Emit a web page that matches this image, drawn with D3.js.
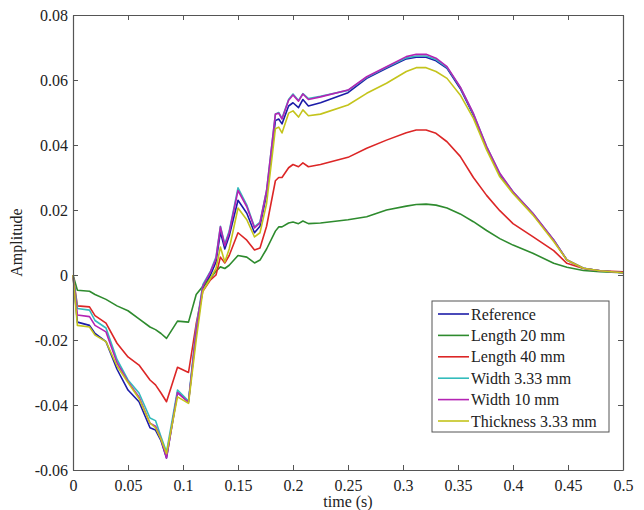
<!DOCTYPE html>
<html>
<head>
<meta charset="utf-8">
<script src="https://cdnjs.cloudflare.com/ajax/libs/d3/7.8.5/d3.min.js"></script>
<style>
body { margin: 0; background: #fff; }
svg text { font-family: "Liberation Serif", "Times New Roman", Times, "DejaVu Serif", serif !important; }
</style>
</head>
<body>
<svg id="chart" width="644" height="510"></svg>
<script>

const times = [0, 0.004, 0.015, 0.02, 0.03, 0.04, 0.05, 0.06, 0.07, 0.075, 0.08, 0.085, 0.095, 0.105, 0.112, 0.118,
    0.125, 0.13, 0.134, 0.138, 0.142, 0.15, 0.158, 0.165, 0.17, 0.176, 0.184, 0.187, 0.19, 0.196, 0.2, 0.205, 0.209,
    0.214, 0.225, 0.25, 0.267, 0.285, 0.303, 0.312, 0.321, 0.33, 0.34, 0.352, 0.364, 0.376, 0.388, 0.4, 0.418, 0.437,
    0.449, 0.464, 0.479, 0.5];

const reference = [0, -0.0145, -0.0155, -0.018, -0.0205, -0.029, -0.0354, -0.039, -0.047, -0.0477, -0.051, -0.0563,
    -0.0362, -0.039, -0.018, -0.004, 0.000, 0.004, 0.0132, 0.008, 0.012, 0.023, 0.019, 0.013, 0.015, 0.025, 0.0475,
    0.048, 0.0465, 0.052, 0.053, 0.0515, 0.054, 0.052, 0.053, 0.0561, 0.0605, 0.0636, 0.0665, 0.067, 0.067, 0.0659,
    0.0636, 0.0574, 0.0492, 0.039, 0.0308, 0.0254, 0.0188, 0.0107, 0.0046, 0.0021, 0.0013, 0.0007];

const length20 = [0, -0.0047, -0.005, -0.006, -0.0075, -0.0095, -0.011, -0.0135, -0.016, -0.0168, -0.018, -0.0195,
    -0.0142, -0.0145, -0.006, -0.0035, -0.001, 0.0012, 0.0025, 0.002, 0.003, 0.006, 0.0055, 0.0037, 0.0046, 0.008,
    0.0135, 0.0148, 0.0148, 0.016, 0.0163, 0.0158, 0.0166, 0.0158, 0.016, 0.017, 0.0179, 0.02, 0.0212, 0.0217, 0.0218,
    0.0215, 0.0206, 0.0188, 0.0164, 0.0137, 0.0112, 0.0092, 0.0067, 0.0036, 0.0024, 0.0014, 0.001, 0.0007];

const length40 = [0, -0.0095, -0.0098, -0.0125, -0.0148, -0.021, -0.0252, -0.0277, -0.0323, -0.0338, -0.0363, -0.039,
    -0.0284, -0.030, -0.015, -0.005, -0.0015, 0.000, 0.0055, 0.0037, 0.006, 0.013, 0.0107, 0.0077, 0.0083, 0.015, 0.029,
    0.030, 0.030, 0.033, 0.034, 0.0333, 0.0345, 0.0333, 0.034, 0.0362, 0.039, 0.0415, 0.0438, 0.0446, 0.0446, 0.0436,
    0.041, 0.0365, 0.030, 0.0245, 0.0198, 0.0158, 0.0118, 0.0075, 0.0036, 0.002, 0.0013, 0.001];

const width333 = [0, -0.0103, -0.0108, -0.014, -0.0163, -0.026, -0.0323, -0.0363, -0.044, -0.0448, -0.0498, -0.0545,
    -0.0354, -0.0388, -0.016, -0.003, 0.0012, 0.0055, 0.015, 0.0095, 0.0135, 0.0268, 0.0215, 0.0148, 0.0163, 0.026,
    0.0495, 0.05, 0.0482, 0.054, 0.0557, 0.0537, 0.0558, 0.0543, 0.055, 0.0568, 0.0608, 0.0639, 0.0668, 0.0674, 0.0674,
    0.0663, 0.0639, 0.0578, 0.0496, 0.0395, 0.0312, 0.0256, 0.019, 0.0108, 0.0046, 0.0021, 0.0013, 0.0007];

const width10 = [0, -0.0123, -0.0128, -0.0155, -0.0175, -0.027, -0.0328, -0.0375, -0.0456, -0.0465, -0.0505, -0.0563,
    -0.0362, -0.0392, -0.017, -0.0035, 0.001, 0.005, 0.0148, 0.009, 0.013, 0.026, 0.021, 0.0145, 0.016, 0.026, 0.0495,
    0.0498, 0.048, 0.0538, 0.0554, 0.0535, 0.0557, 0.054, 0.0548, 0.0569, 0.061, 0.0641, 0.0672, 0.0679, 0.0679,
    0.0667, 0.0641, 0.0579, 0.0497, 0.0395, 0.0313, 0.0256, 0.019, 0.0108, 0.0046, 0.0021, 0.0013, 0.0007];

const thickness333 = [0, -0.0155, -0.016, -0.0185, -0.0205, -0.028, -0.0331, -0.038, -0.0456, -0.047, -0.0505, -0.055,
    -0.0375, -0.0395, -0.02, -0.005, -0.001, 0.002, 0.0086, 0.004, 0.008, 0.0206, 0.017, 0.0117, 0.013, 0.022, 0.045,
    0.0455, 0.0437, 0.0498, 0.0505, 0.0486, 0.0508, 0.049, 0.0495, 0.0523, 0.0559, 0.059, 0.0626, 0.0638, 0.0638,
    0.0626, 0.0605, 0.0554, 0.0482, 0.0385, 0.0302, 0.0251, 0.0185, 0.0103, 0.0046, 0.0021, 0.0013, 0.0007];

const seriesNames = ["Reference", "Length 20 mm", "Length 40 mm", "Width 3.33 mm", "Width 10 mm", "Thickness 3.33 mm"];
const seriesValues = [reference, length20, length40, width333, width10, thickness333];
const seriesColors = ["#1c1ca8", "#2e8b2e", "#dc2626", "#33bcbc", "#b424b4", "#c4c41c"];

const xTicks = [0, 0.05, 0.1, 0.15, 0.2, 0.25, 0.3, 0.35, 0.4, 0.45, 0.5];
const yTicks = [-0.06, -0.04, -0.02, 0, 0.02, 0.04, 0.06, 0.08];

const margin = {top: 15, right: 21, bottom: 40, left: 73};
const svgWidth = 644, svgHeight = 510;
const width = svgWidth - margin.left - margin.right;
const height = svgHeight - margin.top - margin.bottom;

const svg = d3.select("#chart")
    .append("g")
    .attr("transform", "translate(" + margin.left + "," + margin.top + ")");

const x_scale = d3.scaleLinear().domain([0, 0.5]).range([0, width]);
const y_scale = d3.scaleLinear().domain([-0.06, 0.08]).range([height, 0]);

// matlab style labels: plain hyphen, no trailing zeros
const fmt = d => d === 0 ? "0" : String(+d.toFixed(2));

// lines first, the axes box is drawn on top
const line = d3.line()
    .x((d, i) => x_scale(times[i]))
    .y(d => y_scale(d));

svg.selectAll("path.series")
    .data(seriesValues)
    .enter()
    .append("path")
    .attr("class", "series")
    .attr("fill", "none")
    .attr("stroke", (d, i) => seriesColors[i])
    .attr("stroke-width", 1.6)
    .attr("stroke-linejoin", "round")
    .attr("d", line);

const styleAxis = function(g) {
    g.attr("font-family", null).attr("font-size", 16);
    g.select(".domain").attr("stroke", "#555").attr("stroke-width", 1.2);
    g.selectAll(".tick line").attr("stroke", "#555");
    g.selectAll(".tick text").attr("fill", "#222");
};

svg.append("g")
    .attr("transform", "translate(0," + height + ")")
    .call(d3.axisBottom(x_scale).tickValues(xTicks).tickFormat(fmt).tickSizeInner(-5).tickSizeOuter(0).tickPadding(10))
    .call(styleAxis);

svg.append("g")
    .call(d3.axisLeft(y_scale).tickValues(yTicks).tickFormat(fmt).tickSizeInner(-5).tickSizeOuter(0).tickPadding(5))
    .call(styleAxis);

svg.append("g")
    .call(d3.axisTop(x_scale).tickValues(xTicks).tickFormat("").tickSizeInner(-5).tickSizeOuter(0))
    .call(styleAxis);

svg.append("g")
    .attr("transform", "translate(" + width + ",0)")
    .call(d3.axisRight(y_scale).tickValues(yTicks).tickFormat("").tickSizeInner(-5).tickSizeOuter(0))
    .call(styleAxis);

svg.append("text")
    .attr("text-anchor", "middle")
    .attr("x", width / 2)
    .attr("y", height + 37)
    .attr("font-size", 16)
    .attr("fill", "#222")
    .text("time (s)");

svg.append("text")
    .attr("text-anchor", "middle")
    .attr("transform", "translate(-51," + (height / 2) + ") rotate(-90)")
    .attr("font-size", 16)
    .attr("fill", "#222")
    .text("Amplitude");

// legend
const legendX = 432 - margin.left, legendY = 301 - margin.top;
const rowH = 21.4;

const legend = svg.append("g")
    .attr("transform", "translate(" + legendX + "," + legendY + ")");

legend.append("rect")
    .attr("width", 177)
    .attr("height", 131)
    .attr("fill", "#fff")
    .attr("stroke", "#555")
    .attr("stroke-width", 1);

const rows = legend.selectAll("g.row")
    .data(seriesNames)
    .enter()
    .append("g")
    .attr("class", "row")
    .attr("transform", (d, i) => "translate(0," + (13 + i * rowH) + ")");

rows.append("line")
    .attr("x1", 6)
    .attr("x2", 37)
    .attr("stroke", (d, i) => seriesColors[i])
    .attr("stroke-width", 1.6);

rows.append("text")
    .attr("x", 39)
    .attr("dy", "0.35em")
    .attr("font-size", 16)
    .attr("fill", "#222")
    .text(d => d);

</script>
</body>
</html>
